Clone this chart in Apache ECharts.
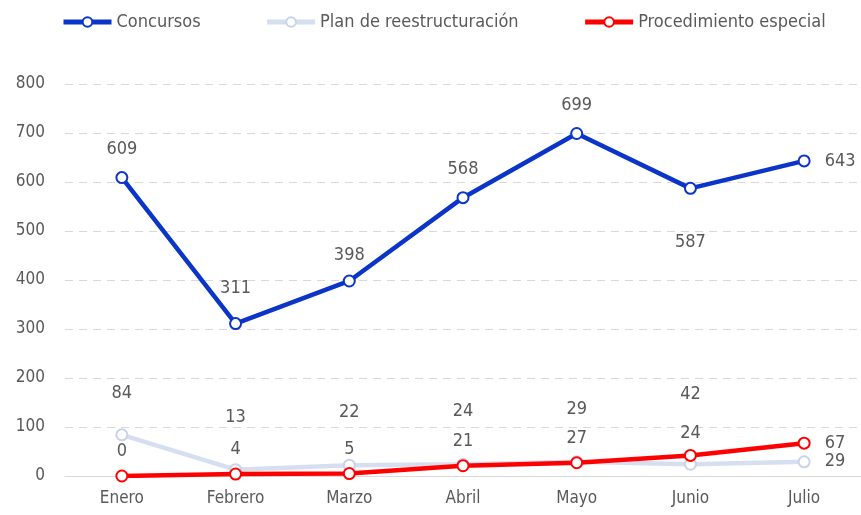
<!DOCTYPE html>
<html>
<head>
<meta charset="utf-8">
<script src="https://cdn.jsdelivr.net/npm/echarts@6/dist/echarts.min.js"></script>
<style>
html,body{margin:0;padding:0;background:#fff;}
#main{width:861px;height:515px;}
</style>
</head>
<body>
<div id="main"></div>
<script>
var meses = ['Enero','Febrero','Marzo','Abril','Mayo','Junio','Julio'];
var concursos = [609, 311, 398, 568, 699, 587, 643];
var planReestructuracion = [84, 13, 22, 24, 29, 24, 29];
var procedimientoEspecial = [0, 4, 5, 21, 27, 42, 67];
var yTicks = [0, 100, 200, 300, 400, 500, 600, 700, 800];

var fuente = "'Liberation Sans Narrow', 'DejaVu Sans Condensed', sans-serif";

// etiquetas: por defecto arriba, ultima a la derecha
function puntos(valores, especiales){
    return valores.map(function(v, i){
        var item = {value: v};
        if (i == valores.length - 1) {
            item.label = {position: 'right', distance: 14};
        } else if (especiales && especiales[i]) {
            item.label = especiales[i];
        }
        return item;
    });
}

var option = {
    animation: false,
    textStyle: {fontFamily: fuente},
    legend: {
        left: 56,
        top: 8,
        itemWidth: 48,
        itemHeight: 12,
        itemGap: 64,
        lineStyle: {width: 5},
        textStyle: {fontFamily: fuente, fontSize: 18, color: '#595959'},
        data: ['Concursos', 'Plan de reestructuración', 'Procedimiento especial']
    },
    grid: {left: 65, right: 0, top: 84, bottom: 39},
    xAxis: {
        type: 'category',
        data: meses,
        boundaryGap: true,
        axisLine: {lineStyle: {color: '#d9d9d9', width: 1}},
        axisTick: {show: false},
        axisLabel: {fontFamily: fuente, fontSize: 17, color: '#595959', margin: 14}
    },
    yAxis: {
        type: 'value',
        min: yTicks[0],
        max: yTicks[yTicks.length - 1],
        interval: 100,
        axisLine: {show: false},
        axisTick: {show: false},
        axisLabel: {fontFamily: fuente, fontSize: 17, color: '#595959', margin: 20},
        splitLine: {lineStyle: {color: '#d9d9d9', type: [8, 6], width: 1}}
    },
    series: [
        {
            name: 'Concursos',
            type: 'line',
            data: puntos(concursos, {
                1: {position: 'top', distance: 20},
                2: {position: 'top', distance: 10},
                5: {position: 'bottom', distance: 38}
            }),
            symbol: 'circle',
            symbolSize: 11,
            lineStyle: {color: '#0b35c9', width: 4.5},
            itemStyle: {color: '#ffffff', borderColor: '#0b35c9', borderWidth: 2},
            label: {show: true, position: 'top', distance: 13, fontSize: 18, color: '#595959', fontFamily: fuente},
            z: 3
        },
        {
            name: 'Plan de reestructuración',
            type: 'line',
            data: puntos(planReestructuracion, {
                0: {position: 'top', distance: 26},
                5: {position: 'top', distance: 15}
            }),
            symbol: 'circle',
            symbolSize: 11,
            lineStyle: {color: '#d6dff0', width: 4.5},
            itemStyle: {color: '#ffffff', borderColor: '#c9d3e8', borderWidth: 2},
            label: {show: true, position: 'top', distance: 37, fontSize: 18, color: '#595959', fontFamily: fuente},
            z: 2
        },
        {
            name: 'Procedimiento especial',
            type: 'line',
            data: puntos(procedimientoEspecial, {5: {position: 'top', distance: 46}}),
            symbol: 'circle',
            symbolSize: 11,
            lineStyle: {color: '#ff0000', width: 4.5},
            itemStyle: {color: '#ffffff', borderColor: '#ff0000', borderWidth: 2},
            label: {show: true, position: 'top', distance: 9, fontSize: 18, color: '#595959', fontFamily: fuente},
            z: 4
        }
    ]
};
echarts.init(document.getElementById('main')).setOption(option);
</script>
</body>
</html>
